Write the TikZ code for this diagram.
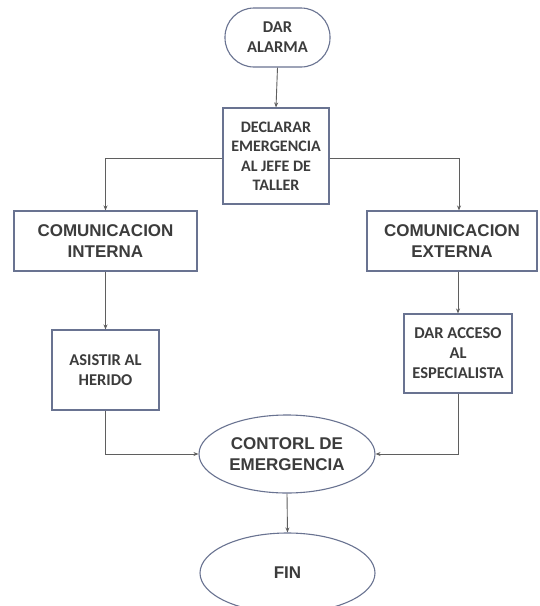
\documentclass[tikz,border=0pt]{standalone}
\usepackage{fontspec}
\setmainfont{Liberation Sans}
\newfontfamily\calib{Carlito}
\usetikzlibrary{shapes.geometric,arrows.meta}
\definecolor{bordc}{RGB}{105,115,145}
\definecolor{txtc}{RGB}{60,60,60}
\definecolor{linec}{RGB}{95,95,95}
\tikzset{
  box/.style={draw=bordc, line width=1.1pt, rectangle, inner sep=0pt, align=center, text=txtc},
  term/.style={box, rounded corners=29pt},
  oval/.style={draw=bordc, line width=1.1pt, ellipse, inner sep=0pt, align=center, text=txtc},
  cal/.style={font=\calib\bfseries\fontsize{16.5}{20}\selectfont},
  ari/.style={font=\bfseries\fontsize{17}{21}\selectfont},
  conn/.style={draw=linec, line width=0.9pt, -{Stealth[length=5pt,width=4pt]}},
}
\begin{document}
\begin{tikzpicture}[x=1pt,y=-1pt]
\clip (0,0) rectangle (539,606);
\fill[white] (0,0) rectangle (539,606);
\node[term, cal, minimum width=105pt, minimum height=59pt] (alarma) at (277.5,37.5) {DAR\\ALARMA};
\node[box, cal, minimum width=106pt, minimum height=96pt, font=\calib\bfseries\fontsize{16}{19.5}\selectfont] (decl) at (276,156) {DECLARAR\\EMERGENCIA\\AL JEFE DE\\TALLER};
\node[box, ari, minimum width=183pt, minimum height=60pt] (int) at (105.5,241) {COMUNICACION\\INTERNA};
\node[box, ari, minimum width=170pt, minimum height=60pt] (ext) at (452,241) {COMUNICACION\\EXTERNA};
\node[box, cal, minimum width=107pt, minimum height=80pt] (asis) at (105.5,370) {ASISTIR AL\\HERIDO};
\node[box, cal, minimum width=108pt, minimum height=79pt] (acc) at (458,353.5) {DAR ACCESO\\AL\\ESPECIALISTA};
\node[oval, ari, minimum width=176pt, minimum height=78pt] (ctrl) at (287,454) {CONTORL DE\\EMERGENCIA};
\node[oval, ari, minimum width=175pt, minimum height=80pt] (fin) at (287.5,573) {FIN};
\coordinate (extin) at ([xshift=7pt]ext.north);
\coordinate (extout) at ([xshift=6pt]ext.south);
\draw[conn] (alarma.south) -- (decl.north);
\draw[conn] ([yshift=-2pt]decl.west) -| (int.north);
\draw[conn] ([yshift=-2pt]decl.east) -| (extin);
\draw[conn] (int.south) -- (asis.north);
\draw[conn] (extout) -- (acc.north);
\draw[conn] (asis.south) |- (ctrl.west);
\draw[conn] (acc.south) |- (ctrl.east);
\draw[conn] (ctrl.south) -- (fin.north);
\end{tikzpicture}
\end{document}
